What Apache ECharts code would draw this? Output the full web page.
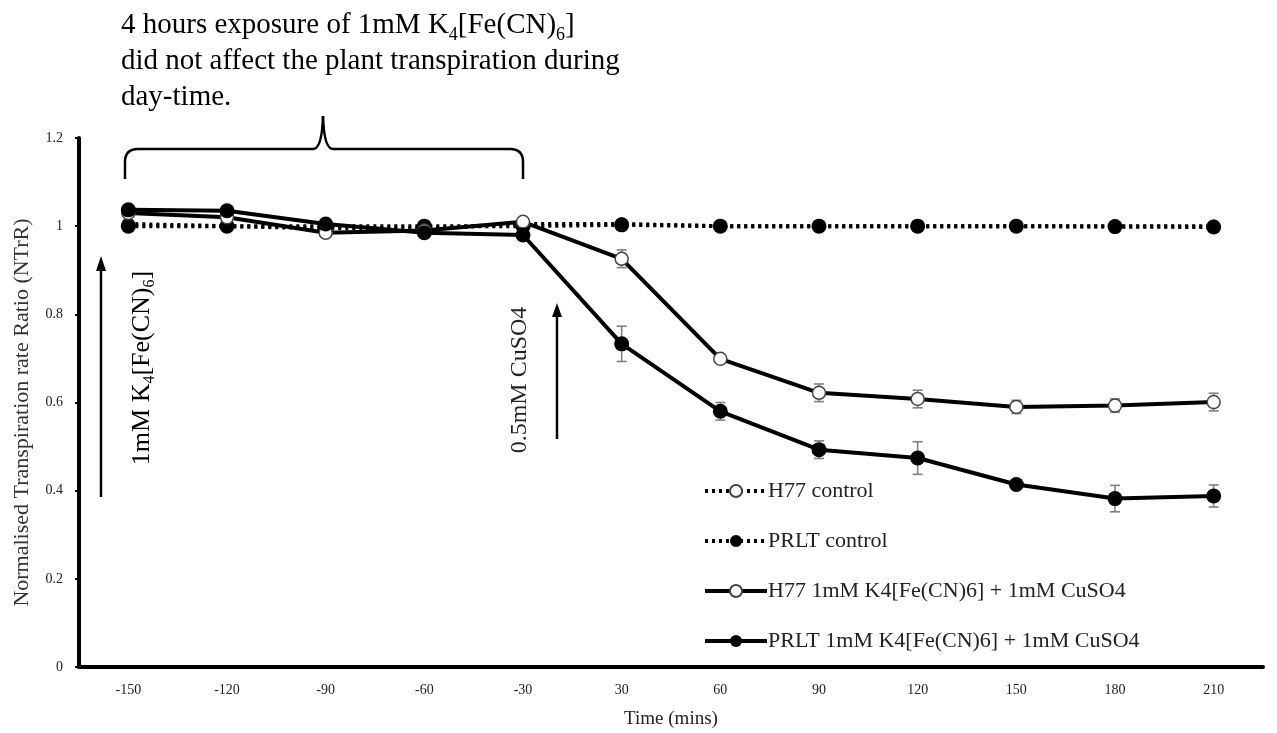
<!DOCTYPE html>
<html>
<head>
<meta charset="utf-8">
<script src="https://cdn.jsdelivr.net/npm/echarts@6/dist/echarts.min.js"></script>
<style>
  html, body { margin: 0; padding: 0; background: #fff; }
  #main { width: 1277px; height: 733px; }
</style>
</head>
<body>
<div id="main"></div>
<script>
// time points (mins)
var timeLabels = ['-150', '-120', '-90', '-60', '-30', '30', '60', '90', '120', '150', '180', '210'];

// series values
var h77Control = [1.005, 1.0, 0.995, 0.995, 1.005, 1.005, 1.0, 1.0, 1.0, 1.0, 1.0, 1.0];
var prltControl = [1.0, 1.0, 1.0, 1.0, 1.0, 1.003, 1.0, 1.0, 1.0, 1.0, 0.999, 0.998];
var h77Treat = [1.03, 1.02, 0.985, 0.99, 1.01, 0.926, 0.699, 0.622, 0.608, 0.59, 0.593, 0.601];
var prltTreat = [1.037, 1.035, 1.005, 0.985, 0.98, 0.733, 0.58, 0.493, 0.474, 0.414, 0.382, 0.388];

// error bar half widths
var h77TreatErr = [0, 0, 0, 0, 0, 0.02, 0.01, 0.02, 0.02, 0.015, 0.015, 0.02];
var prltTreatErr = [0, 0, 0, 0, 0, 0.04, 0.02, 0.02, 0.037, 0.01, 0.03, 0.025];

var seriesNames = ['H77 control', 'PRLT control', 'H77 1mM K4[Fe(CN)6] + 1mM CuSO4', 'PRLT 1mM K4[Fe(CN)6] + 1mM CuSO4'];

var myChart = echarts.init(document.getElementById('main'));
var serif = '"Liberation Serif", "DejaVu Serif", serif';

function errData(vals, errs) {
    var out = [];
    for (var i = 0; i < vals.length; i++) {
        if (errs[i] > 0) out.push([i, vals[i] - errs[i], vals[i] + errs[i]]);
    }
    return out;
}

function renderErr(params, api) {
    var lo = api.coord([api.value(0), api.value(1)]);
    var hi = api.coord([api.value(0), api.value(2)]);
    var w = 5;
    var st = { stroke: '#808080', lineWidth: 1.6 };
    return {
        type: 'group',
        children: [
            { type: 'line', shape: { x1: lo[0], y1: lo[1], x2: hi[0], y2: hi[1] }, style: st },
            { type: 'line', shape: { x1: lo[0] - w, y1: lo[1], x2: lo[0] + w, y2: lo[1] }, style: st },
            { type: 'line', shape: { x1: hi[0] - w, y1: hi[1], x2: hi[0] + w, y2: hi[1] }, style: st }
        ]
    };
}

var subRich = {
    n: { fontFamily: serif, fontSize: 29, color: '#222', lineHeight: 36 },
    s: { fontFamily: serif, fontSize: 18, color: '#222', lineHeight: 36, padding: [20, 0, 0, 0] }
};
var vRich = {
    n: { fontFamily: serif, fontSize: 26, color: '#222', lineHeight: 30 },
    s: { fontFamily: serif, fontSize: 16, color: '#222', lineHeight: 30, padding: [16, 0, 0, 0] }
};

var braceStyle = { stroke: '#000', lineWidth: 2.5, fill: null };
function bl(x1, y1, x2, y2) {
    return { type: 'line', z: 10, shape: { x1: x1, y1: y1, x2: x2, y2: y2 }, style: braceStyle };
}
function bq(x1, y1, cx, cy, x2, y2) {
    return { type: 'bezierCurve', z: 10, shape: { x1: x1, y1: y1, cpx1: cx, cpy1: cy, x2: x2, y2: y2 }, style: braceStyle };
}

var option = {
    backgroundColor: '#fff',
    animation: false,
    textStyle: { fontFamily: serif },
    grid: { left: 79, right: 14, top: 138, bottom: 66, outerBoundsMode: 'none', containLabel: false },
    legend: {
        data: seriesNames,
        orient: 'vertical',
        left: 698,
        top: 474,
        itemWidth: 62,
        itemHeight: 15,
        itemGap: 26,
        lineStyle: { width: 4 },
        textStyle: { fontFamily: serif, fontSize: 22, lineHeight: 24, color: '#222', padding: [0, 0, 0, -4] }
    },
    xAxis: {
        type: 'category',
        data: timeLabels,
        name: 'Time (mins)',
        nameLocation: 'middle',
        nameGap: 43,
        nameTextStyle: { fontFamily: serif, fontSize: 19, color: '#222' },
        axisLine: { lineStyle: { color: '#000', width: 4 } },
        axisTick: { length: 5, lineStyle: { color: '#000', width: 2 } },
        axisLabel: { fontFamily: serif, fontSize: 14, color: '#222', margin: 16 }
    },
    yAxis: {
        type: 'value',
        min: 0,
        max: 1.2,
        interval: 0.2,
        name: 'Normalised Transpiration rate Ratio (NTrR)',
        nameLocation: 'middle',
        nameGap: 46,
        nameTextStyle: { fontFamily: serif, fontSize: 22, color: '#333', padding: [0, 20, 0, 0] },
        axisLine: { show: true, lineStyle: { color: '#000', width: 4 } },
        axisTick: { show: true, length: 4, lineStyle: { color: '#000', width: 2 } },
        axisLabel: {
            fontFamily: serif, fontSize: 14, color: '#222', margin: 16,
            formatter: function (v) { return String(Math.round(v * 10) / 10); }
        },
        splitLine: { show: false }
    },
    series: [
        {
            name: 'err1', type: 'custom', renderItem: renderErr, z: 1,
            data: errData(h77Treat, h77TreatErr), silent: true
        },
        {
            name: 'err2', type: 'custom', renderItem: renderErr, z: 1,
            data: errData(prltTreat, prltTreatErr), silent: true
        },
        {
            name: seriesNames[0], type: 'line', data: h77Control, z: 2,
            symbol: 'circle', symbolSize: 12,
            lineStyle: { color: '#000', width: 4, type: [3, 4] },
            itemStyle: { color: '#fff', borderColor: '#444', borderWidth: 1.5 }
        },
        {
            name: seriesNames[1], type: 'line', data: prltControl, z: 3,
            symbol: 'circle', symbolSize: 15,
            lineStyle: { color: '#000', width: 4, type: [3, 4] },
            itemStyle: { color: '#000', borderColor: '#000', borderWidth: 0 }
        },
        {
            name: seriesNames[2], type: 'line', data: h77Treat, z: 4,
            symbol: 'circle', symbolSize: 13,
            lineStyle: { color: '#000', width: 4 },
            itemStyle: { color: '#fff', borderColor: '#444', borderWidth: 1.5 }
        },
        {
            name: seriesNames[3], type: 'line', data: prltTreat, z: 5,
            symbol: 'circle', symbolSize: 15,
            lineStyle: { color: '#000', width: 4 },
            itemStyle: { color: '#000', borderColor: '#000', borderWidth: 0 }
        }
    ],
    graphic: [
        // top annotation
        {
            type: 'text', x: 121, y: 7,
            style: {
                text: '{n|4 hours exposure of 1mM K}{s|4}{n|[Fe(CN)}{s|6}{n|]}\n{n|did not affect the plant transpiration during}\n{n|day-time.}',
                rich: subRich
            }
        },
        // brace
        bl(125, 179, 125, 162),
        bq(125, 162, 125, 149, 138, 149),
        bl(138, 149, 313, 149),
        bq(313, 149, 322, 149, 323, 116),
        bq(323, 116, 324, 149, 333, 149),
        bl(333, 149, 510, 149),
        bq(510, 149, 523, 149, 523, 162),
        bl(523, 162, 523, 179),
        // arrow for K4[Fe(CN)6]
        { type: 'line', shape: { x1: 101, y1: 497, x2: 101, y2: 268 }, style: { stroke: '#000', lineWidth: 2.5 } },
        { type: 'polygon', shape: { points: [[101, 256], [96, 271], [106, 271]] }, style: { fill: '#000' } },
        {
            type: 'text', x: 142, y: 368, rotation: Math.PI / 2,
            style: {
                text: '{n|1mM K}{s|4}{n|[Fe(CN)}{s|6}{n|]}',
                rich: vRich, align: 'center', verticalAlign: 'middle'
            }
        },
        // arrow for CuSO4
        { type: 'line', shape: { x1: 557, y1: 439, x2: 557, y2: 314 }, style: { stroke: '#000', lineWidth: 2.5 } },
        { type: 'polygon', shape: { points: [[557, 303], [552, 317], [562, 317]] }, style: { fill: '#000' } },
        {
            type: 'text', x: 520, y: 380, rotation: Math.PI / 2,
            style: {
                text: '0.5mM CuSO4', font: '24px ' + serif, fill: '#222',
                align: 'center', verticalAlign: 'middle'
            }
        }
    ]
};

option && myChart.setOption(option);
</script>
</body>
</html>
